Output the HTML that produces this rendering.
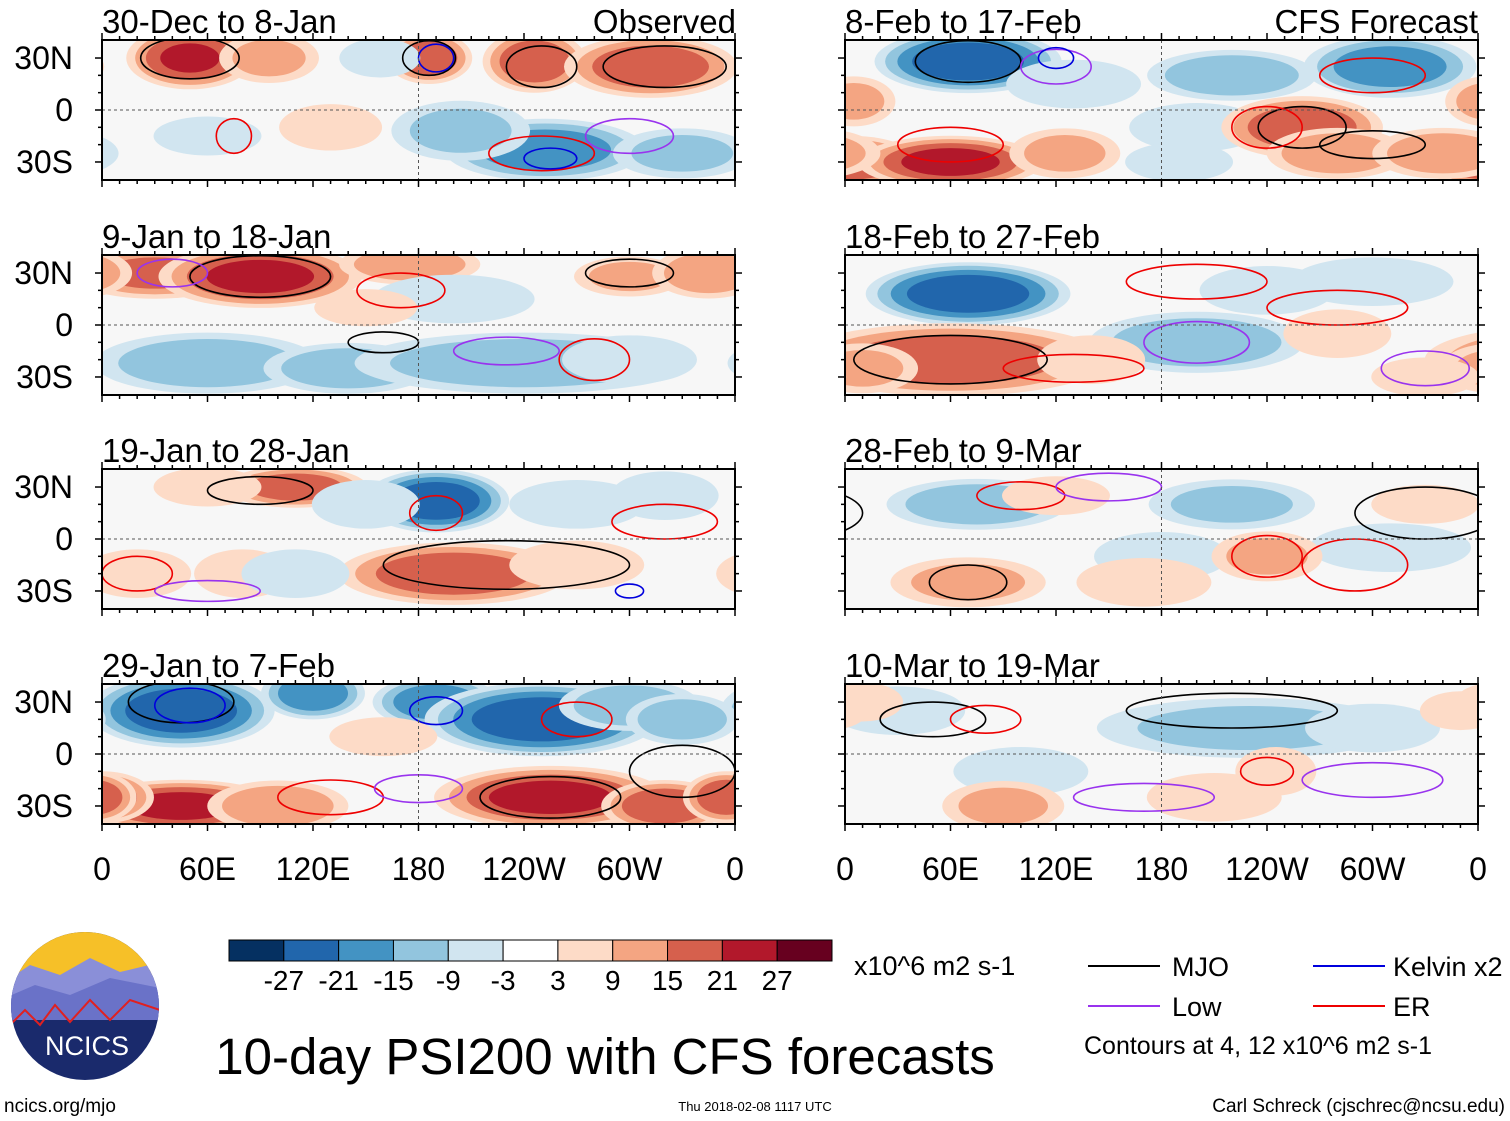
<!DOCTYPE html>
<html><head><meta charset="utf-8"><style>
body{margin:0;background:#fff;}
svg{display:block;font-family:"Liberation Sans",sans-serif;}
</style></head><body>
<svg id="c" width="1510" height="1121" viewBox="0 0 1510 1121" xmlns="http://www.w3.org/2000/svg"></svg>
<script>
const panelTitles=["30-Dec to 8-Jan","9-Jan to 18-Jan","19-Jan to 28-Jan","29-Jan to 7-Feb","8-Feb to 17-Feb","18-Feb to 27-Feb","28-Feb to 9-Mar","10-Mar to 19-Mar"];
const latTicks=[30,0,-30];
const latLabels=["30N","0","30S"];
const lonTicks=[0,60,120,180,240,300,360];
const lonLabels=["0","60E","120E","180","120W","60W","0"];
const cbLevels=[-27,-21,-15,-9,-3,3,9,15,21,27];
const cbColors=["#053061","#2166ac","#4393c3","#92c5de","#d1e5f0","#ffffff","#fddbc7","#f4a582","#d6604d","#b2182b","#67001f"];
// blobs: [lon, lat, peak value, lon radius, lat radius]
const blobs0=[[50,30,22,22,12],[95,30,12,18,10],[186,30,20,15,10],[246,28,21,18,12],[312,25,21,30,12],[252,-23,-20,35,12],[204,-12,-12,25,12],[158,30,-9,15,8],[60,-15,-9,20,8],[330,-25,-12,25,10],[130,-10,6,20,10]];
const blobs1=[[30,30,18,30,10],[90,28,24,35,12],[175,35,15,25,8],[300,28,12,20,8],[345,30,15,20,10],[60,-22,-15,40,12],[140,-25,-15,30,10],[240,-22,-15,60,12],[200,15,-9,30,10],[300,-20,-9,25,10],[150,10,6,20,8]];
const blobs2=[[110,30,20,25,8],[60,30,9,20,8],[190,22,-27,25,12],[150,20,-9,20,10],[270,20,-9,25,10],[320,25,-9,20,10],[200,-20,21,40,12],[270,-15,9,25,10],[20,-20,9,20,10],[80,-20,9,18,10],[110,-20,-9,20,10]];
const blobs3=[[45,25,-27,32,14],[120,35,-21,18,10],[190,30,-21,22,10],[250,20,-27,40,14],[300,28,-15,25,10],[330,20,-15,20,10],[45,-30,24,35,10],[100,-30,15,25,10],[0,-25,21,18,10],[255,-25,24,40,12],[320,-30,21,22,10],[355,-25,21,15,10],[160,10,9,20,8]];
const blobs4=[[70,28,-27,32,12],[220,20,-15,30,10],[310,25,-20,30,12],[130,15,-9,25,10],[200,-10,-9,25,10],[190,-30,-9,20,8],[5,-30,21,22,10],[60,-30,24,32,10],[125,-25,12,20,10],[260,-10,21,28,12],[280,-25,15,25,10],[340,-25,15,25,10],[5,5,12,15,10]];
const blobs5=[[70,18,-27,35,12],[200,-10,-15,38,12],[300,25,-9,30,10],[240,20,-9,25,10],[60,-20,21,55,14],[10,-25,12,20,10],[280,-5,9,20,10],[330,-30,9,20,8],[140,-20,9,20,10]];
const blobs6=[[75,20,-15,32,10],[220,20,-12,30,10],[310,-5,-9,30,10],[180,-10,-9,25,10],[240,-10,12,20,10],[70,-25,12,28,10],[170,-25,9,25,10],[330,20,9,20,8],[120,25,9,20,8]];
const blobs7=[[230,15,-12,55,12],[30,25,-9,25,10],[100,-10,-9,25,10],[300,15,-9,25,10],[90,-30,12,22,10],[210,-25,9,25,10],[245,-10,9,15,10],[10,30,9,15,8],[350,25,9,15,8]];
const allBlobs=[blobs0,blobs1,blobs2,blobs3,blobs4,blobs5,blobs6,blobs7];
// contour outlines: [lon, lat, lon radius, lat radius, type]
const lines0=[[50,30,28,12,"mjo"],[186,30,15,10,"mjo"],[250,25,20,12,"mjo"],[320,25,35,12,"mjo"],[250,-25,30,10,"er"],[75,-15,10,10,"er"],[190,30,10,8,"kel"],[255,-28,15,6,"kel"],[300,-15,25,10,"low"]];
const lines1=[[90,28,40,12,"mjo"],[160,-10,20,6,"mjo"],[300,30,25,8,"mjo"],[170,20,25,10,"er"],[280,-20,20,12,"er"],[230,-15,30,8,"low"],[40,30,20,8,"low"]];
const lines2=[[90,28,30,8,"mjo"],[230,-15,70,14,"mjo"],[190,15,15,10,"er"],[320,10,30,10,"er"],[20,-20,20,10,"er"],[60,-30,30,6,"low"],[300,-30,8,4,"kel"]];
const lines3=[[45,30,30,12,"mjo"],[255,-25,40,12,"mjo"],[330,-10,30,15,"mjo"],[50,28,20,10,"kel"],[190,25,15,8,"kel"],[270,20,20,10,"er"],[130,-25,30,10,"er"],[180,-20,25,8,"low"]];
const lines4=[[70,28,30,12,"mjo"],[260,-10,25,12,"mjo"],[300,-20,30,8,"mjo"],[240,-10,20,12,"er"],[60,-20,30,10,"er"],[120,25,20,10,"low"],[300,20,30,10,"er"],[120,30,10,6,"kel"]];
const lines5=[[60,-20,55,14,"mjo"],[200,-10,30,12,"low"],[280,10,40,10,"er"],[200,25,40,10,"er"],[330,-25,25,10,"low"],[130,-25,40,8,"er"]];
const lines6=[[70,-25,22,10,"mjo"],[330,15,40,15,"mjo"],[240,-10,20,12,"er"],[290,-15,30,15,"er"],[100,25,25,8,"er"],[150,30,30,8,"low"]];
const lines7=[[220,25,60,10,"mjo"],[50,20,30,10,"mjo"],[240,-10,15,8,"er"],[80,20,20,8,"er"],[300,-15,40,10,"low"],[170,-25,40,8,"low"]];
const allLines=[lines0,lines1,lines2,lines3,lines4,lines5,lines6,lines7];
const lineColor={mjo:"#000",er:"#e00",kel:"#00d",low:"#9933ee"};

const NS="http://www.w3.org/2000/svg";
const svg=document.getElementById('c');
function mk(tag,attrs,parent){const e=document.createElementNS(NS,tag);for(const k in attrs)e.setAttribute(k,attrs[k]);(parent||svg).appendChild(e);return e;}
function txt(s,x,y,size,anchor,parent){const t=mk('text',{x:x,y:y,'font-size':size,'text-anchor':anchor||'start',fill:'#000'},parent);t.textContent=s;return t;}
const colX=[102,845], rowY=[40,255,469,684], PW=633, PH=140;
function colorFor(t){const i=cbLevels.findIndex(l=>t<l);return cbColors[i<0?10:i];}

for(let p=0;p<8;p++){
  const col=p<4?0:1,row=p%4,x0=colX[col],y0=rowY[row];
  const X=lon=>x0+lon/360*PW, Y=lat=>y0+PH/2-lat/40.4*(PH/2);
  const g=mk('g',{});
  
  
  const cid='clip'+p;
  const cp=mk('clipPath',{id:cid},g);mk('rect',{x:x0,y:y0,width:PW,height:PH},cp);
  mk('rect',{x:x0,y:y0,width:PW,height:PH,fill:'#f7f7f7'},g);
  const f=mk('g',{'clip-path':'url(#'+cid+')'},g);
  const sx=PW/360, sy=(PH/2)/40.4;
  for(const b of allBlobs[p]){
    const [lon,lat,v,rl,rt]=b,s=Math.sign(v),a=Math.abs(v);
    const thr=[3,9,15,21,27];
    for(const t of thr){ if(t>=a)break;
      const sc=Math.sqrt(1-t/(a+4));
      for(const off of [-360,0,360]){
        const e=mk('ellipse',{cx:X(lon+off),cy:Y(lat),rx:rl*sc*sx*1.75,ry:rt*sc*sy*1.6,fill:colorFor(s*(t+0.5))},f);
        
        
      }
    }
  }
  for(const l of allLines[p]){
    for(const off of [-360,0,360]){
      const e=mk('ellipse',{cx:X(l[0]+off),cy:Y(l[1]),rx:l[2]*sx,ry:l[3]*sy,fill:'none',stroke:lineColor[l[4]],'stroke-width':1.6},f);
      
      
    }
  }
  mk('line',{x1:x0,x2:x0+PW,y1:Y(0),y2:Y(0),stroke:'#555','stroke-dasharray':'3,3','stroke-width':1},g);
  mk('line',{x1:X(180),x2:X(180),y1:y0,y2:y0+PH,stroke:'#555','stroke-dasharray':'3,3','stroke-width':1},g);
  mk('rect',{x:x0,y:y0,width:PW,height:PH,fill:'none',stroke:'#000','stroke-width':2},g);
  for(let lo=0;lo<=360;lo+=10){const L=lo%60==0?7:4;
    mk('line',{x1:X(lo),x2:X(lo),y1:y0,y2:y0-L,stroke:'#000','stroke-width':1.5},g);
    mk('line',{x1:X(lo),x2:X(lo),y1:y0+PH,y2:y0+PH+L,stroke:'#000','stroke-width':1.5},g);}
  for(let la=-30;la<=30;la+=10){mk('line',{x1:x0,x2:x0-(la%30==0?7:4),y1:Y(la),y2:Y(la),stroke:'#000','stroke-width':1.5},g);
    mk('line',{x1:x0+PW,x2:x0+PW+(la%30==0?7:4),y1:Y(la),y2:Y(la),stroke:'#000','stroke-width':1.5},g);}
  const tt=txt(panelTitles[p],x0,y0-7,33,'start',g);
  
  
  if(col==0) latTicks.forEach((la,i)=>{const t=txt(latLabels[i],73,Y(la)+11,32,'end',g);
    
    });
  if(row==3) lonTicks.forEach((lo,i)=>{const t=txt(lonLabels[i],X(lo),880,32,'middle',g);
    
    });
}
txt("Observed",736,33,33,'end');
txt("CFS Forecast",1478,33,33,'end');

const cb=mk('g',{});


const cbx=229,cbw=603/11;
cbColors.forEach((c,i)=>mk('rect',{x:cbx+i*cbw,y:940,width:cbw,height:21,fill:c,stroke:'#000','stroke-width':1},cb));
cbLevels.forEach((l,i)=>txt(String(l),cbx+(i+1)*cbw,990,28,'middle',cb));
txt("x10^6 m2 s-1",854,975,27,'start');

const lg=mk('g',{});


[["MJO","#000",1088,966,1172],["Low","#9933ee",1088,1006,1172],["Kelvin x2","#00d",1313,966,1393],["ER","#e00",1313,1006,1393]].forEach(e=>{
  mk('line',{x1:e[2],x2:e[2]+72,y1:e[3],y2:e[3],stroke:e[1],'stroke-width':2},lg);
  txt(e[0],e[4],e[3]+10,27,'start',lg);});
txt("Contours at 4, 12 x10^6 m2 s-1",1084,1054,25,'start',lg);

const ti=txt("10-day PSI200 with CFS forecasts",605,1074,51,'middle');

txt("ncics.org/mjo",4,1112,19,'start');
txt("Thu 2018-02-08 1117 UTC",755,1111,13,'middle');
txt("Carl Schreck (cjschrec@ncsu.edu)",1505,1112,19,'end');

const lo=mk('g',{});


const lcp=mk('clipPath',{id:'lclip'},lo);mk('circle',{cx:85,cy:1006,r:74},lcp);
const lg2=mk('g',{'clip-path':'url(#lclip)'},lo);
mk('rect',{x:0,y:930,width:170,height:160,fill:'#1a2a6c'},lg2);
mk('rect',{x:0,y:930,width:170,height:45,fill:'#f6c028'},lg2);
mk('path',{d:'M0 985 L30 965 L60 975 L90 958 L120 972 L170 960 L170 1000 L0 1000Z',fill:'#8a8fd8'},lg2);
mk('path',{d:'M0 1000 L35 985 L70 995 L110 978 L170 990 L170 1020 L0 1020Z',fill:'#6a72c8'},lg2);
mk('path',{d:'M10 1025 L25 1010 L40 1025 L55 1005 L70 1022 L90 1000 L110 1020 L130 1000 L160 1010',fill:'none',stroke:'#e02020','stroke-width':2},lg2);
txt("NCICS",87,1055,27,'middle',lo).setAttribute('fill','#fff');
</script>
</body></html>
